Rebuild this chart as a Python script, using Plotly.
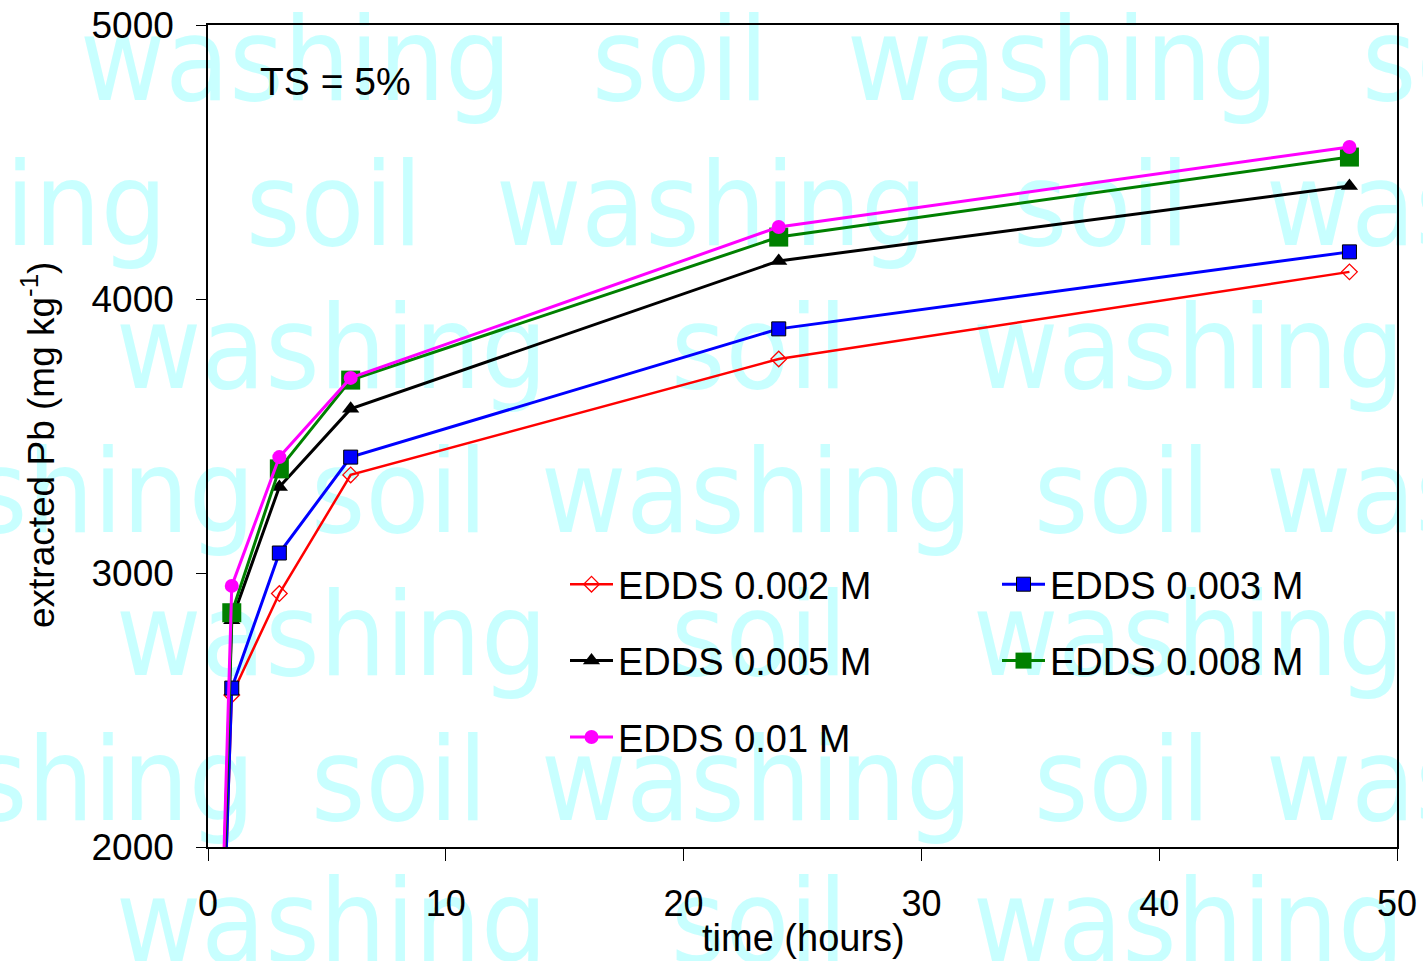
import plotly.graph_objects as go

# ---------------- data ----------------
time_h = [0, 1, 3, 6, 24, 48]
edds_0002 = [0, 2555, 2925, 3358, 3781, 4099]
edds_0003 = [0, 2580, 3073, 3423, 3891, 4172]
edds_0005 = [0, 2828, 3314, 3599, 4139, 4412]
edds_0008 = [0, 2855, 3380, 3704, 4226, 4518]
edds_001 = [0, 2953, 3423, 3712, 4263, 4555]

series_names = ["EDDS 0.002 M", "EDDS 0.003 M", "EDDS 0.005 M", "EDDS 0.008 M", "EDDS 0.01 M"]
x_ticks = [0, 10, 20, 30, 40, 50]
y_ticks = [2000, 3000, 4000, 5000]

# watermark words (rows of repeated text)
wm_rows = [
    ["washing", "soil", "washing", "soil"],
    ["washing", "soil", "washing", "soil", "washing"],
    ["washing", "soil", "washing"],
    ["washing", "soil", "washing", "soil", "washing"],
    ["washing", "soil", "washing"],
    ["washing", "soil", "washing", "soil", "washing"],
    ["washing", "soil", "washing"],
]
# watermark layout: pixel anchor x, side of anchor ("L" = left edge, "R" = right edge), baseline y
wm_anchor = [
    [(80, "L"), (592, "L"), (847, "L"), (1362, "L")],
    [(167, "R"), (246, "L"), (496, "L"), (1013, "L"), (1266, "L")],
    [(116, "L"), (671, "L"), (973, "L")],
    [(255, "R"), (311, "L"), (541, "L"), (1034, "L"), (1266, "L")],
    [(116, "L"), (671, "L"), (973, "L")],
    [(255, "R"), (311, "L"), (541, "L"), (1034, "L"), (1266, "L")],
    [(116, "L"), (671, "L"), (973, "L")],
]
wm_base = [100, 245, 388, 532, 675, 820, 962]

W, H = 1423, 961
L, R, T, B = 208, 1397, 25, 847
FS_WM = 116
FONT = "Liberation Sans, Arial, sans-serif"


def px(xp):
    return xp / W


def py(yp):
    return 1 - yp / H


fig = go.Figure()

# watermark on a full-page pixel subplot, drawn beneath the data subplot
wx, wy, wt, wp = [], [], [], []
for words, anchors, base in zip(wm_rows, wm_anchor, wm_base):
    for wd, (ax_, side) in zip(words, anchors):
        wx.append(ax_)
        wy.append(base - 0.25 * FS_WM)
        wt.append(wd)
        wp.append("middle right" if side == "L" else "middle left")
fig.add_trace(go.Scatter(
    x=wx, y=wy, text=wt, mode="text", textposition=wp,
    textfont=dict(family="DejaVu Sans Condensed, DejaVu Sans", size=FS_WM, color="#c8ffff"),
    cliponaxis=False, hoverinfo="skip", showlegend=False,
    xaxis="x", yaxis="y",
))

styles = [
    dict(color="#ff0000", width=2.5, symbol="diamond-open", msize=12, mline=dict(color="#ff0000", width=1.3), legend="legend"),
    dict(color="#0000ff", width=3, symbol="square", msize=14, mline=dict(color="#000000", width=1), legend="legend2"),
    dict(color="#000000", width=3, symbol="triangle-up", msize=15, mline=dict(color="#000000", width=0), legend="legend"),
    dict(color="#008000", width=3, symbol="square", msize=19, mline=dict(color="#008000", width=0), legend="legend2"),
    dict(color="#ff00ff", width=3, symbol="circle", msize=14, mline=dict(color="#ff00ff", width=0), legend="legend"),
]
all_series = [edds_0002, edds_0003, edds_0005, edds_0008, edds_001]
for name, vals, st in zip(series_names, all_series, styles):
    fig.add_trace(go.Scatter(
        x=time_h, y=vals, name=name, mode="lines+markers",
        line=dict(color=st["color"], width=st["width"]),
        marker=dict(symbol=st["symbol"], size=st["msize"], color=st["color"], line=st["mline"]),
        xaxis="x2", yaxis="y2", legend=st["legend"], legendgroup=name,
    ))

leg_common = dict(
    font=dict(family=FONT, size=38, color="#000000"),
    bgcolor="rgba(0,0,0,0)", borderwidth=0, orientation="v",
    xanchor="left", yanchor="top", tracegroupgap=24, itemsizing="trace", itemwidth=43,
)

fig.update_layout(
    width=W, height=H,
    margin=dict(l=0, r=0, t=0, b=0, pad=0, autoexpand=False),
    paper_bgcolor="white", plot_bgcolor="rgba(0,0,0,0)",
    showlegend=True,
    xaxis=dict(domain=[0, 1], range=[0, W], visible=False, fixedrange=True, anchor="y"),
    yaxis=dict(domain=[0, 1], range=[H, 0], visible=False, fixedrange=True, anchor="x"),
    xaxis2=dict(
        domain=[L / W, R / W], range=[0, 50], tickvals=x_ticks, ticktext=[str(v) for v in x_ticks],
        showline=True, mirror=True, linecolor="black", linewidth=2,
        ticks="outside", ticklen=12, tickwidth=1.2, tickcolor="black",
        showgrid=False, zeroline=False, ticklabelstandoff=12, automargin=False,
        tickfont=dict(family=FONT, size=36, color="black"), anchor="y2",
    ),
    yaxis2=dict(
        domain=[(H - B) / H, (H - T) / H], range=[2000, 5000], tickvals=y_ticks,
        ticktext=[str(v) for v in y_ticks],
        showline=True, mirror=True, linecolor="black", linewidth=1.5,
        ticks="outside", ticklen=10, tickwidth=1.2, tickcolor="black",
        showgrid=False, zeroline=False, ticklabelstandoff=15, automargin=False,
        tickfont=dict(family=FONT, size=37, color="black"), anchor="x2",
    ),
    legend=dict(x=px(565), y=py(553), **leg_common),
    legend2=dict(x=px(997), y=py(553), **leg_common),
    annotations=[
        dict(text="TS = 5%", xref="paper", yref="paper", x=px(258), y=py(82),
             xanchor="left", yanchor="middle", showarrow=False,
             font=dict(family=FONT, size=39, color="black")),
        dict(text="time (hours)", xref="paper", yref="paper", x=px(803), y=py(938),
             xanchor="center", yanchor="middle", showarrow=False,
             font=dict(family=FONT, size=38, color="black")),
        dict(text="extracted Pb (mg kg<sup>-1</sup>)", xref="paper", yref="paper",
             x=px(38), y=py(445), textangle=-90,
             xanchor="center", yanchor="middle", showarrow=False,
             font=dict(family=FONT, size=37, color="black")),
    ],
)

fig.write_html("out.html")
